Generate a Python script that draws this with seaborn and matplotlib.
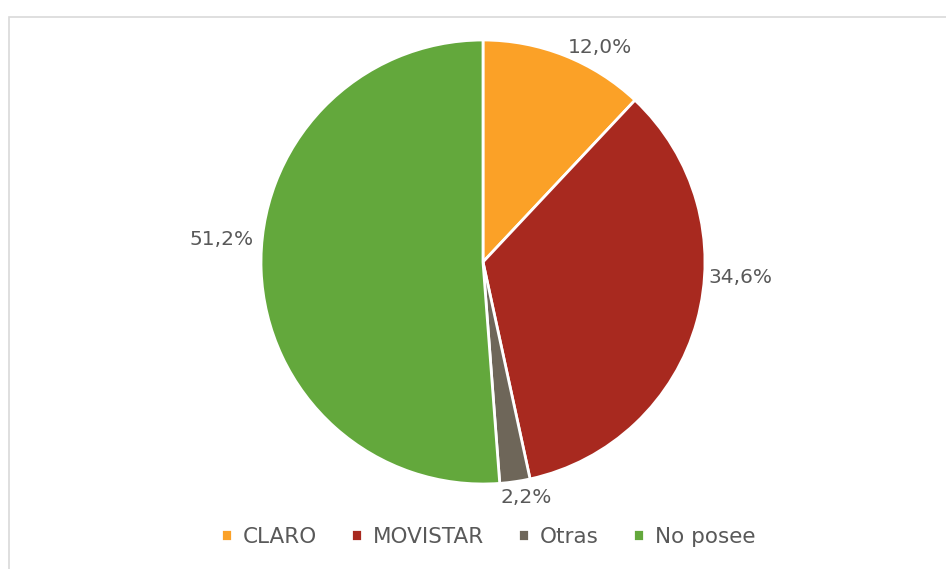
import matplotlib
matplotlib.use("Agg")
import matplotlib.pyplot as plt
import seaborn as sns
import numpy as np
from matplotlib.patches import Rectangle

sns.set_theme(style="white")
plt.rcParams['font.family'] = ['DejaVu Sans']

categories = ["CLARO", "MOVISTAR", "Otras", "No posee"]
values = [12.0, 34.6, 2.2, 51.2]
colors = ["#FBA127", "#A8291F", "#6E6659", "#63A83C"]
labels = [f"{v:.1f}%".replace(".", ",") for v in values]

# label placement tweaks (Excel-like best fit): angle shift in degrees, radial distance
label_shift = [-7, 12, 2, -7]
label_dist = [1.10, 1.16, 1.08, 1.18]

W, H = 946, 569
fig = plt.figure(figsize=(W / 100, H / 100), dpi=100)

# chart frame
fig.patches.append(Rectangle((9 / W, -0.1), 1.2, (H - 17) / H + 0.1,
                             transform=fig.transFigure, fill=False,
                             edgecolor="#D9D9D9", linewidth=1.2))

cx, cy, r, k = 483, 262, 222, 1.3
side = 2 * r * k
ax = fig.add_axes([(cx - side / 2) / W, (H - cy - side / 2) / H, side / W, side / H])

wedges, texts = ax.pie(values, colors=colors, startangle=90, counterclock=False,
                       labels=labels, labeldistance=1.1,
                       wedgeprops=dict(edgecolor="white", linewidth=2),
                       textprops=dict(color="#595959", fontsize=14.5))
ax.set_xlim(-k, k)
ax.set_ylim(-k, k)
ax.axis("off")
for w in wedges:
    w.set_clip_on(False)
for w, t, s, d in zip(wedges, texts, label_shift, label_dist):
    ang = np.deg2rad((w.theta1 + w.theta2) / 2 + s)
    t.set_position((d * np.cos(ang), d * np.sin(ang)))
    t.set_ha("center")
    t.set_va("center")

fig.legend(wedges, categories, loc="center", bbox_to_anchor=(488 / W, 1 - 537 / H),
           ncol=4, frameon=False, fontsize=15.5, handlelength=0.5, handleheight=0.5,
           handletextpad=0.5, columnspacing=1.6, labelcolor="#595959")

fig.savefig("out.png", dpi=100)
